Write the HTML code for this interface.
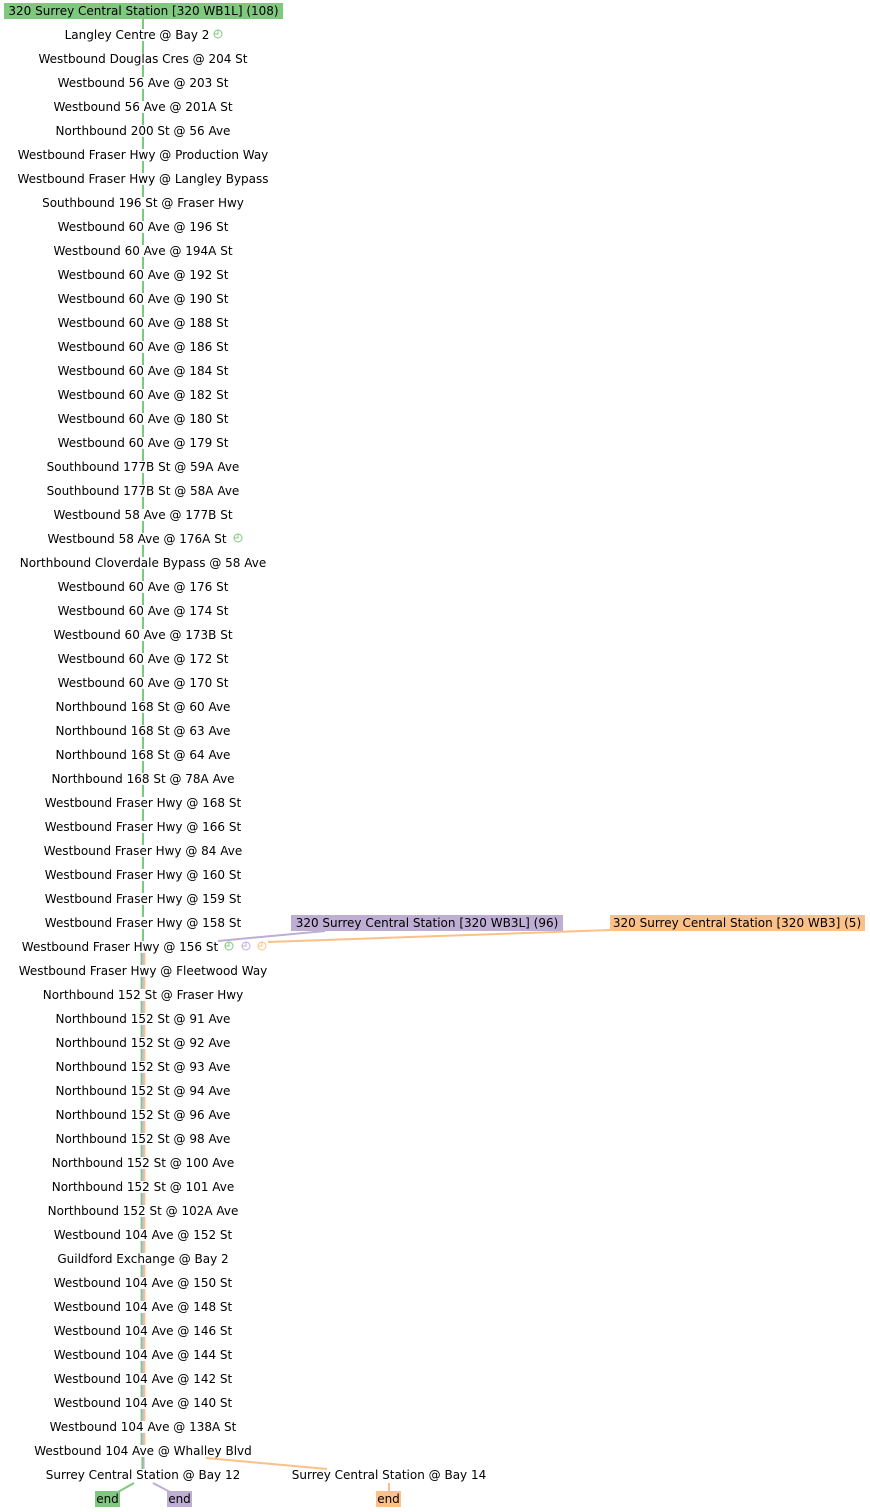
<!DOCTYPE html>
<html><head><meta charset="utf-8"><style>
html,body{margin:0;padding:0;background:#fff;}
svg{display:block;}
text{font-family:"DejaVu Sans","Liberation Sans",sans-serif;font-size:12px;fill:#000;}
</style></head><body>
<svg width="870" height="1512" viewBox="0 0 870 1512" xmlns="http://www.w3.org/2000/svg">
<defs>
<symbol id="clk" viewBox="-5 -5 10 10"><circle r="4" fill="none" stroke-width="1"/><path d="M0 -4 V0 H-4" fill="none" stroke-width="1"/></symbol>
</defs>
<g stroke="#7fc97f" stroke-width="2">
<path d="M143 17V29M143 41V53M143 65V77M143 89V101M143 113V125M143 137V149M143 161V173M143 185V197M143 209V221M143 233V245M143 257V269M143 281V293M143 305V317M143 329V341M143 353V365M143 377V389M143 401V413M143 425V437M143 449V461M143 473V485M143 497V509M143 521V533M143 545V557M143 569V581M143 593V605M143 617V629M143 641V653M143 665V677M143 689V701M143 713V725M143 737V749M143 761V773M143 785V797M143 809V821M143 833V845M143 857V869M143 881V893M143 905V917M143 929V941"/>
</g>
<g stroke-width="1.6">
<path stroke="#7fc97f" d="M141.4 953V965M141.4 977V989M141.4 1001V1013M141.4 1025V1037M141.4 1049V1061M141.4 1073V1085M141.4 1097V1109M141.4 1121V1133M141.4 1145V1157M141.4 1169V1181M141.4 1193V1205M141.4 1217V1229M141.4 1241V1253M141.4 1265V1277M141.4 1289V1301M141.4 1313V1325M141.4 1337V1349M141.4 1361V1373M141.4 1385V1397M141.4 1409V1421M141.4 1433V1445M142.2 1457V1469"/>
<path stroke="#beaed4" d="M143 953V965M143 977V989M143 1001V1013M143 1025V1037M143 1049V1061M143 1073V1085M143 1097V1109M143 1121V1133M143 1145V1157M143 1169V1181M143 1193V1205M143 1217V1229M143 1241V1253M143 1265V1277M143 1289V1301M143 1313V1325M143 1337V1349M143 1361V1373M143 1385V1397M143 1409V1421M143 1433V1445M143.8 1457V1469"/>
<path stroke="#fdc086" d="M144.6 953V965M144.6 977V989M144.6 1001V1013M144.6 1025V1037M144.6 1049V1061M144.6 1073V1085M144.6 1097V1109M144.6 1121V1133M144.6 1145V1157M144.6 1169V1181M144.6 1193V1205M144.6 1217V1229M144.6 1241V1253M144.6 1265V1277M144.6 1289V1301M144.6 1313V1325M144.6 1337V1349M144.6 1361V1373M144.6 1385V1397M144.6 1409V1421M144.6 1433V1445"/>
</g>
<g stroke-width="2" fill="none">
<path stroke="#beaed4" d="M325 931L218 941"/>
<path stroke="#fdc086" d="M611 930L268 942"/>
<path stroke="#fdc086" d="M206 1458L327 1469"/>
<path stroke="#7fc97f" d="M134 1483L118 1492"/>
<path stroke="#beaed4" d="M153 1483L170 1492"/>
<path stroke="#fdc086" d="M389 1483V1491"/>
</g>
<rect x="4" y="3" width="279" height="16" fill="#7fc97f"/>
<rect x="291" y="915" width="272" height="16" fill="#beaed4"/>
<rect x="610" y="915" width="255" height="16" fill="#fdc086"/>
<rect x="95" y="1491" width="25" height="16" fill="#7fc97f"/>
<rect x="167" y="1491" width="25" height="16" fill="#beaed4"/>
<rect x="376" y="1491" width="25" height="16" fill="#fdc086"/>
<text x="143.5" y="15" text-anchor="middle">320 Surrey Central Station [320 WB1L] (108)</text>
<text x="427" y="927" text-anchor="middle">320 Surrey Central Station [320 WB3L] (96)</text>
<text x="737" y="927" text-anchor="middle">320 Surrey Central Station [320 WB3] (5)</text>
<text x="107.5" y="1503" text-anchor="middle">end</text>
<text x="179.5" y="1503" text-anchor="middle">end</text>
<text x="388.5" y="1503" text-anchor="middle">end</text>
<use href="#clk" x="213" y="29" width="10" height="10" stroke="#7fc97f"/>
<use href="#clk" x="233" y="533" width="10" height="10" stroke="#7fc97f"/>
<use href="#clk" x="224" y="941" width="10" height="10" stroke="#7fc97f"/>
<use href="#clk" x="241" y="941" width="10" height="10" stroke="#beaed4"/>
<use href="#clk" x="257" y="941" width="10" height="10" stroke="#fdc086"/>
<g text-anchor="middle">
<text x="137" y="39">Langley Centre @ Bay 2</text>
<text x="143" y="63">Westbound Douglas Cres @ 204 St</text>
<text x="143" y="87">Westbound 56 Ave @ 203 St</text>
<text x="143" y="111">Westbound 56 Ave @ 201A St</text>
<text x="143" y="135">Northbound 200 St @ 56 Ave</text>
<text x="143" y="159">Westbound Fraser Hwy @ Production Way</text>
<text x="143" y="183">Westbound Fraser Hwy @ Langley Bypass</text>
<text x="143" y="207">Southbound 196 St @ Fraser Hwy</text>
<text x="143" y="231">Westbound 60 Ave @ 196 St</text>
<text x="143" y="255">Westbound 60 Ave @ 194A St</text>
<text x="143" y="279">Westbound 60 Ave @ 192 St</text>
<text x="143" y="303">Westbound 60 Ave @ 190 St</text>
<text x="143" y="327">Westbound 60 Ave @ 188 St</text>
<text x="143" y="351">Westbound 60 Ave @ 186 St</text>
<text x="143" y="375">Westbound 60 Ave @ 184 St</text>
<text x="143" y="399">Westbound 60 Ave @ 182 St</text>
<text x="143" y="423">Westbound 60 Ave @ 180 St</text>
<text x="143" y="447">Westbound 60 Ave @ 179 St</text>
<text x="143" y="471">Southbound 177B St @ 59A Ave</text>
<text x="143" y="495">Southbound 177B St @ 58A Ave</text>
<text x="143" y="519">Westbound 58 Ave @ 177B St</text>
<text x="137" y="543">Westbound 58 Ave @ 176A St</text>
<text x="143" y="567">Northbound Cloverdale Bypass @ 58 Ave</text>
<text x="143" y="591">Westbound 60 Ave @ 176 St</text>
<text x="143" y="615">Westbound 60 Ave @ 174 St</text>
<text x="143" y="639">Westbound 60 Ave @ 173B St</text>
<text x="143" y="663">Westbound 60 Ave @ 172 St</text>
<text x="143" y="687">Westbound 60 Ave @ 170 St</text>
<text x="143" y="711">Northbound 168 St @ 60 Ave</text>
<text x="143" y="735">Northbound 168 St @ 63 Ave</text>
<text x="143" y="759">Northbound 168 St @ 64 Ave</text>
<text x="143" y="783">Northbound 168 St @ 78A Ave</text>
<text x="143" y="807">Westbound Fraser Hwy @ 168 St</text>
<text x="143" y="831">Westbound Fraser Hwy @ 166 St</text>
<text x="143" y="855">Westbound Fraser Hwy @ 84 Ave</text>
<text x="143" y="879">Westbound Fraser Hwy @ 160 St</text>
<text x="143" y="903">Westbound Fraser Hwy @ 159 St</text>
<text x="143" y="927">Westbound Fraser Hwy @ 158 St</text>
<text x="120" y="951">Westbound Fraser Hwy @ 156 St</text>
<text x="143" y="975">Westbound Fraser Hwy @ Fleetwood Way</text>
<text x="143" y="999">Northbound 152 St @ Fraser Hwy</text>
<text x="143" y="1023">Northbound 152 St @ 91 Ave</text>
<text x="143" y="1047">Northbound 152 St @ 92 Ave</text>
<text x="143" y="1071">Northbound 152 St @ 93 Ave</text>
<text x="143" y="1095">Northbound 152 St @ 94 Ave</text>
<text x="143" y="1119">Northbound 152 St @ 96 Ave</text>
<text x="143" y="1143">Northbound 152 St @ 98 Ave</text>
<text x="143" y="1167">Northbound 152 St @ 100 Ave</text>
<text x="143" y="1191">Northbound 152 St @ 101 Ave</text>
<text x="143" y="1215">Northbound 152 St @ 102A Ave</text>
<text x="143" y="1239">Westbound 104 Ave @ 152 St</text>
<text x="143" y="1263">Guildford Exchange @ Bay 2</text>
<text x="143" y="1287">Westbound 104 Ave @ 150 St</text>
<text x="143" y="1311">Westbound 104 Ave @ 148 St</text>
<text x="143" y="1335">Westbound 104 Ave @ 146 St</text>
<text x="143" y="1359">Westbound 104 Ave @ 144 St</text>
<text x="143" y="1383">Westbound 104 Ave @ 142 St</text>
<text x="143" y="1407">Westbound 104 Ave @ 140 St</text>
<text x="143" y="1431">Westbound 104 Ave @ 138A St</text>
<text x="143" y="1455">Westbound 104 Ave @ Whalley Blvd</text>
<text x="143" y="1479">Surrey Central Station @ Bay 12</text>
<text x="389" y="1479">Surrey Central Station @ Bay 14</text>
</g>
</svg>
</body></html>
